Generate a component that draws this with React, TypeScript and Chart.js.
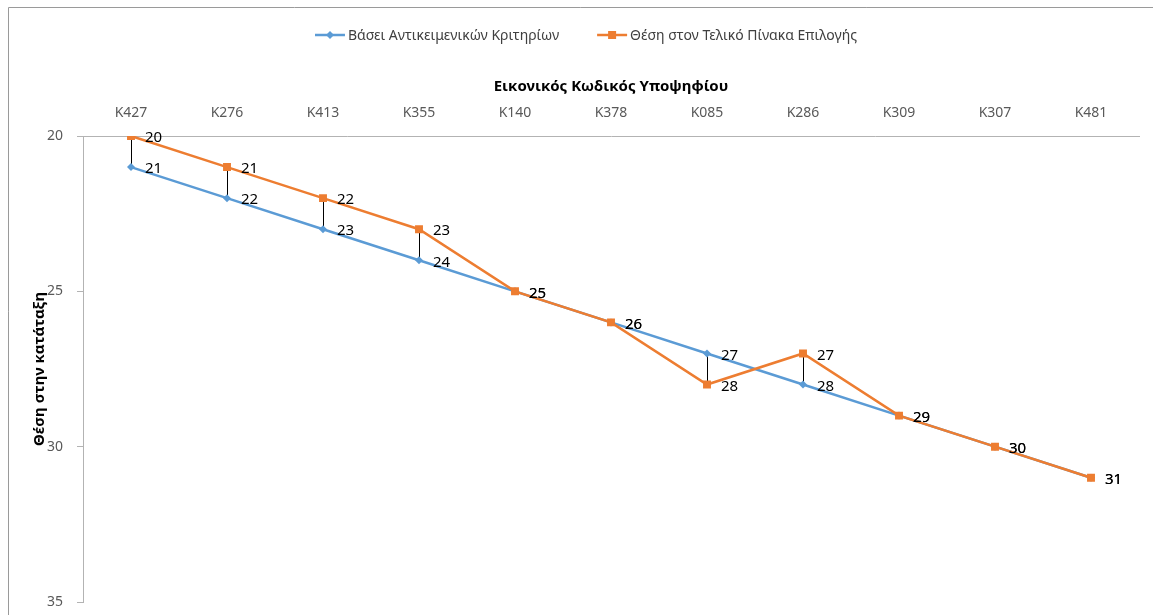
import React, { useEffect, useRef } from 'react';
import { Chart, registerables } from 'chart.js';

Chart.register(...registerables);

const categories = ['K427', 'K276', 'K413', 'K355', 'K140', 'K378', 'K085', 'K286', 'K309', 'K307', 'K481'];
const objectiveRank = [21, 22, 23, 24, 25, 26, 27, 28, 29, 30, 31];
const finalRank = [20, 21, 22, 23, 25, 26, 28, 27, 29, 30, 31];
const seriesNames = ['Βάσει Αντικειμενικών Κριτηρίων', 'Θέση στον Τελικό Πίνακα Επιλογής'];
const xTitle = 'Εικονικός Κωδικός Υποψηφίου';
const yTitle = 'Θέση στην κατάταξη';
const yMin = 20;
const yMax = 35;
const yStep = 5;

const BLUE = '#5B9BD5';
const ORANGE = '#ED7D31';
const FONT = '"Noto Sans", "DejaVu Sans", sans-serif';

const dropLines = {
  id: 'dropLines',
  beforeDatasetsDraw(chart: any) {
    const m0 = chart.getDatasetMeta(0);
    const m1 = chart.getDatasetMeta(1);
    const ctx = chart.ctx;
    ctx.save();
    ctx.strokeStyle = '#000';
    ctx.lineWidth = 1;
    for (let i = 0; i < m0.data.length; i++) {
      const a = m0.data[i];
      const b = m1.data[i];
      if (!a || !b) continue;
      const x = Math.round(a.x) + 0.5;
      ctx.beginPath();
      ctx.moveTo(x, a.y);
      ctx.lineTo(x, b.y);
      ctx.stroke();
    }
    ctx.restore();
  },
};

const dataLabels = {
  id: 'dataLabels',
  afterDatasetsDraw(chart: any) {
    const ctx = chart.ctx;
    ctx.save();
    ctx.font = `15px ${FONT}`;
    ctx.fillStyle = '#000';
    ctx.textAlign = 'left';
    ctx.textBaseline = 'middle';
    [0, 1].forEach((di) => {
      const meta = chart.getDatasetMeta(di);
      const values = chart.data.datasets[di].data;
      meta.data.forEach((el: any, i: number) => {
        ctx.fillText(String(values[i]), el.x + 14, el.y + 2);
      });
    });
    ctx.restore();
  },
};

function drawMarker(ctx: CanvasRenderingContext2D, kind: string, x: number, y: number, color: string) {
  ctx.fillStyle = color;
  if (kind === 'diamond') {
    ctx.beginPath();
    ctx.moveTo(x - 4, y);
    ctx.lineTo(x, y - 4);
    ctx.lineTo(x + 4, y);
    ctx.lineTo(x, y + 4);
    ctx.closePath();
    ctx.fill();
  } else {
    ctx.fillRect(x - 4, y - 4, 8, 8);
  }
}

const customLegend = {
  id: 'customLegend',
  afterDraw(chart: any) {
    const ctx = chart.ctx;
    ctx.save();
    ctx.font = `14px ${FONT}`;
    ctx.textBaseline = 'middle';
    ctx.textAlign = 'left';
    const items = [
      { text: seriesNames[0], color: BLUE, kind: 'diamond' },
      { text: seriesNames[1], color: ORANGE, kind: 'square' },
    ];
    const markerW = 30;
    const gap = 3;
    const spacing = 38;
    const widths = items.map((it) => markerW + gap + ctx.measureText(it.text).width);
    const total = widths[0] + spacing + widths[1];
    let x = 586 - total / 2;
    const y = 35;
    items.forEach((it, i) => {
      ctx.strokeStyle = it.color;
      ctx.lineWidth = 2.5;
      ctx.beginPath();
      ctx.moveTo(x, y);
      ctx.lineTo(x + markerW, y);
      ctx.stroke();
      drawMarker(ctx, it.kind, x + markerW / 2, y, it.color);
      ctx.fillStyle = '#404040';
      ctx.fillText(it.text, x + markerW + gap, y + 1);
      x += widths[i] + spacing;
    });
    // outer chart border
    ctx.strokeStyle = '#9a9a9a';
    ctx.lineWidth = 1;
    ctx.beginPath();
    ctx.moveTo(8.5, 615);
    ctx.lineTo(8.5, 7.5);
    ctx.lineTo(1153, 7.5);
    ctx.stroke();
    ctx.restore();
  },
};

export default function App() {
  const ref = useRef<HTMLCanvasElement | null>(null);

  useEffect(() => {
    if (!ref.current) return;
    const chart = new Chart(ref.current, {
      type: 'line',
      data: {
        labels: categories,
        datasets: [
          {
            label: seriesNames[0],
            data: objectiveRank,
            borderColor: BLUE,
            backgroundColor: BLUE,
            borderWidth: 2.5,
            pointStyle: 'rectRot',
            pointRadius: 4,
            pointBorderWidth: 0,
            pointBackgroundColor: BLUE,
            tension: 0,
            order: 2,
          },
          {
            label: seriesNames[1],
            data: finalRank,
            borderColor: ORANGE,
            backgroundColor: ORANGE,
            borderWidth: 2.5,
            pointStyle: 'rect',
            pointRadius: 5.6,
            pointBorderWidth: 0,
            pointBackgroundColor: ORANGE,
            tension: 0,
            order: 1,
          },
        ],
      },
      options: {
        responsive: false,
        animation: false,
        devicePixelRatio: 1,
        layout: { padding: { left: 0, right: 14, top: 61, bottom: 13 } },
        plugins: {
          legend: { display: false },
          tooltip: { enabled: false },
          title: { display: false },
        },
        scales: {
          x: {
            type: 'category',
            position: 'top',
            offset: true,
            grid: { display: false, drawTicks: false },
            border: { display: true, color: '#b3b3b3', width: 1 },
            ticks: {
              color: '#595959',
              font: { family: FONT, size: 14 },
              padding: 15,
              maxRotation: 0,
              autoSkip: false,
            },
            title: {
              display: true,
              text: xTitle,
              color: '#000',
              font: { family: FONT, size: 15, weight: 'bold' },
              padding: { top: 17, bottom: 0 },
            },
            afterFit(scale: any) {
              scale.height = 75;
            },
          },
          y: {
            reverse: true,
            min: yMin,
            max: yMax,
            grid: {
              display: true,
              drawOnChartArea: false,
              drawTicks: true,
              tickLength: 6,
              color: '#b3b3b3',
            },
            border: { display: true, color: '#b3b3b3', width: 1 },
            ticks: {
              stepSize: yStep,
              color: '#595959',
              font: { family: FONT, size: 14 },
              padding: 14,
            },
            title: {
              display: true,
              text: yTitle,
              color: '#000',
              font: { family: FONT, size: 15, weight: 'bold' },
              padding: { top: 31, bottom: 0 },
            },
            afterFit(scale: any) {
              scale.width = 83;
              scale.paddingTop = 0;
              scale.paddingBottom = 0;
            },
          },
        },
      },
      plugins: [dropLines, dataLabels, customLegend],
    } as any);
    return () => chart.destroy();
  }, []);

  return (
    <div style={{ position: 'absolute', left: 0, top: 0, width: 1153, height: 615, background: '#fff' }}>
      <canvas ref={ref} width={1153} height={615} style={{ width: 1153, height: 615, display: 'block' }} />
    </div>
  );
}
